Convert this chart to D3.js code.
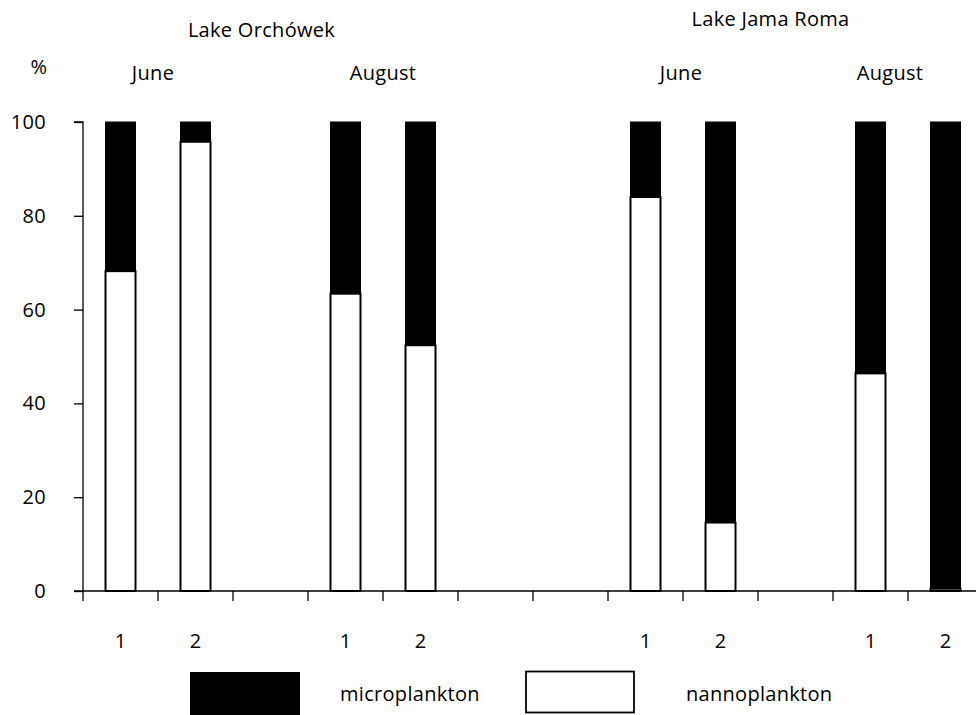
<!DOCTYPE html>
<html><head><meta charset="utf-8">
<script src="https://cdn.jsdelivr.net/npm/d3@7"></script>
<style>body{margin:0;background:#fff}svg{display:block}text{font-family:"Open Sans",sans-serif;fill:#000;letter-spacing:0.3px}</style>
</head><body>
<svg id="c" width="976" height="715"></svg>
<script>
const slotLabels = ["1","2","","1","2","","","1","2","","1","2"];
const nanno = [68.2, 95.8, null, 63.4, 52.4, null, null, 84.0, 14.6, null, 46.4, 0.5];
const micro = [31.8, 4.2, null, 36.6, 47.6, null, null, 16.0, 85.4, null, 53.6, 99.5];
const yTicks = [0, 20, 40, 60, 80, 100];
const lakes = [{name:"Lake Orchówek", slots:[0,4], dx:-9, y:37},{name:"Lake Jama Roma", slots:[7,11], dx:-25, y:26}];
const months = [{name:"June", slots:[0,1], dx:-5},{name:"August", slots:[3,4], dx:0},{name:"June", slots:[7,8], dx:-2},{name:"August", slots:[10,11], dx:-18}];
const legendItems = ["microplankton","nannoplankton"];

const FS = 20;
const svg = d3.select("#c");
const idx = d3.range(slotLabels.length);
const x = d3.scaleBand().domain(idx).range([83, 983]).paddingInner(0).paddingOuter(0);
const y = d3.scaleLinear().domain([0,100]).range([591, 122]);
const bw = 30;
const cx = i => x(i) + x.bandwidth()/2;

// axes
const yAxis = svg.append("g").attr("transform","translate(83,0)")
  .call(d3.axisLeft(y).tickValues(yTicks).tickSize(9).tickPadding(28));
yAxis.select(".domain").attr("stroke","#000").attr("stroke-width",1.3).attr("d","M-9,122H0V591H-9");
yAxis.selectAll(".tick line").attr("stroke-width",1.3);
yAxis.selectAll("text").attr("font-size",FS).attr("font-family","Open Sans");

const xg = svg.append("g").attr("transform","translate(0,591)");
xg.append("line").attr("x1",83).attr("x2",983).attr("stroke","#000").attr("stroke-width",1.3);
xg.selectAll("line.t").data(d3.range(slotLabels.length+1)).join("line").attr("class","t")
  .attr("x1",d=> 83 + d*x.bandwidth()).attr("x2",d=>83 + d*x.bandwidth())
  .attr("y1",0).attr("y2",10).attr("stroke","#000").attr("stroke-width",1.3);
xg.selectAll("text").data(idx.filter(i=>slotLabels[i]!=="")).join("text")
  .attr("x",cx).attr("y",57).attr("text-anchor","middle").attr("font-size",FS).text(i=>slotLabels[i]);

// bars
const data = idx.filter(i=>nanno[i]!==null);
svg.selectAll("rect.n").data(data).join("rect").attr("class","n")
  .attr("x",i=>cx(i)-bw/2).attr("width",bw)
  .attr("y",i=>y(nanno[i])).attr("height",i=>y(0)-y(nanno[i]))
  .attr("fill","#fff").attr("stroke","#000").attr("stroke-width",2);
svg.selectAll("rect.m").data(data).join("rect").attr("class","m")
  .attr("x",i=>cx(i)-bw/2).attr("width",bw)
  .attr("y",i=>y(nanno[i]+micro[i])).attr("height",i=>y(nanno[i])-y(nanno[i]+micro[i]))
  .attr("fill","#000").attr("stroke","#000").attr("stroke-width",1);

// titles
svg.selectAll("text.lake").data(lakes).join("text").attr("class","lake")
  .attr("x",d=>(cx(d.slots[0])+cx(d.slots[1]))/2 + d.dx).attr("y",d=>d.y)
  .attr("text-anchor","middle").attr("font-size",FS).text(d=>d.name);
svg.selectAll("text.month").data(months).join("text").attr("class","month")
  .attr("x",d=>(cx(d.slots[0])+cx(d.slots[1]))/2 + d.dx).attr("y",80)
  .attr("text-anchor","middle").attr("font-size",FS).text(d=>d.name);
svg.append("text").attr("x",39).attr("y",74).attr("text-anchor","middle").attr("font-size",FS).text("%");

// legend
const lg = svg.append("g");
lg.append("rect").attr("x",190).attr("y",672).attr("width",110).attr("height",45).attr("fill","#000");
lg.append("text").attr("x",340).attr("y",701).attr("font-size",FS).text(legendItems[0]);
lg.append("rect").attr("x",526).attr("y",671.5).attr("width",108).attr("height",41).attr("fill","#fff").attr("stroke","#000").attr("stroke-width",1.8);
lg.append("text").attr("x",686).attr("y",701).attr("font-size",FS).text(legendItems[1]);
</script>
</body></html>
